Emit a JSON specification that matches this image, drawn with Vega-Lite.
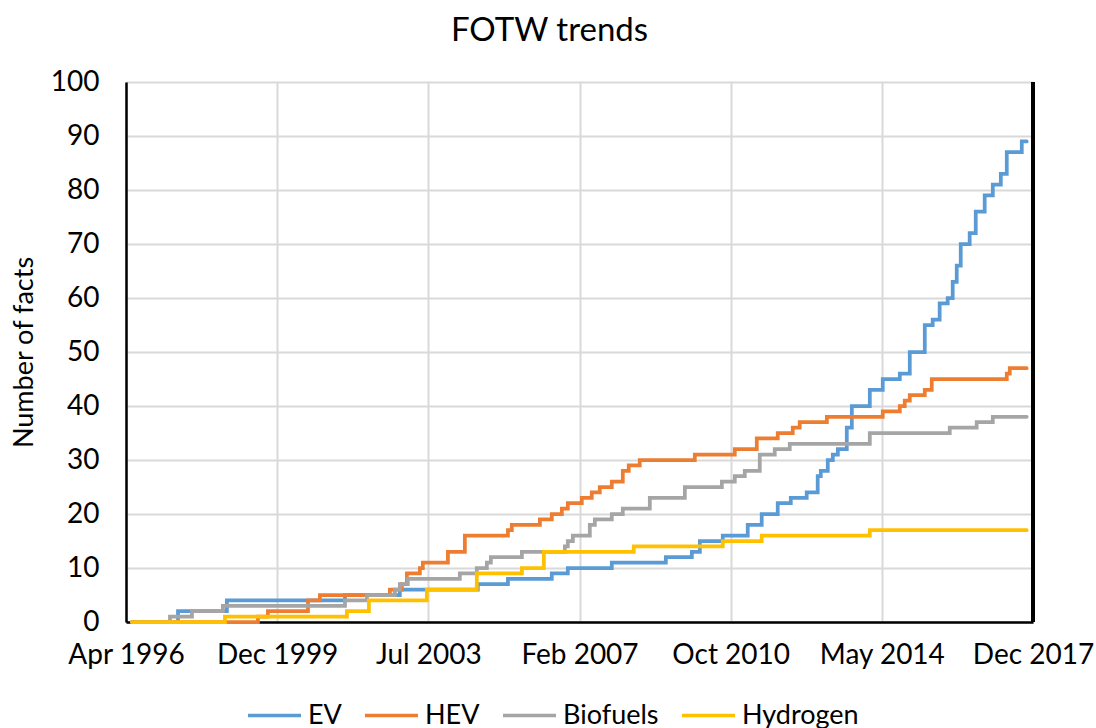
{
  "$schema": "https://vega.github.io/schema/vega-lite/v6.json",
  "autosize": {"type": "none"},
  "width": 907,
  "height": 540,
  "padding": {"left": 126, "top": 82, "right": 63, "bottom": 106},
  "background": "white",
  "config": {
    "font": "Lato",
    "view": {"stroke": null},
    "axis": {"labelFont": "Lato", "titleFont": "Lato", "labelColor": "#000", "titleColor": "#000"}
  },
  "title": {"text": "FOTW trends", "fontSize": 33, "fontWeight": "normal", "font": "Lato", "color": "#000", "anchor": "middle", "dx": -30, "offset": 20},
  "data": {"values": [
    {"s":"EV","d":"1996-06-16","v":0},
    {"s":"EV","d":"1997-07-23","v":2},
    {"s":"EV","d":"1998-09-23","v":4},
    {"s":"EV","d":"2001-07-20","v":5},
    {"s":"EV","d":"2002-11-11","v":6},
    {"s":"EV","d":"2004-09-22","v":7},
    {"s":"EV","d":"2005-06-12","v":8},
    {"s":"EV","d":"2006-06-30","v":9},
    {"s":"EV","d":"2006-11-17","v":10},
    {"s":"EV","d":"2007-12-06","v":11},
    {"s":"EV","d":"2009-03-22","v":12},
    {"s":"EV","d":"2009-11-04","v":13},
    {"s":"EV","d":"2010-01-13","v":15},
    {"s":"EV","d":"2010-08-01","v":16},
    {"s":"EV","d":"2011-03-07","v":18},
    {"s":"EV","d":"2011-07-07","v":20},
    {"s":"EV","d":"2011-11-24","v":22},
    {"s":"EV","d":"2012-03-17","v":23},
    {"s":"EV","d":"2012-08-03","v":24},
    {"s":"EV","d":"2012-11-07","v":27},
    {"s":"EV","d":"2012-12-04","v":28},
    {"s":"EV","d":"2013-02-03","v":30},
    {"s":"EV","d":"2013-03-19","v":31},
    {"s":"EV","d":"2013-05-02","v":32},
    {"s":"EV","d":"2013-07-19","v":36},
    {"s":"EV","d":"2013-09-01","v":40},
    {"s":"EV","d":"2014-02-05","v":43},
    {"s":"EV","d":"2014-05-29","v":45},
    {"s":"EV","d":"2014-10-25","v":46},
    {"s":"EV","d":"2015-01-20","v":50},
    {"s":"EV","d":"2015-05-31","v":55},
    {"s":"EV","d":"2015-08-08","v":56},
    {"s":"EV","d":"2015-10-08","v":59},
    {"s":"EV","d":"2015-12-17","v":60},
    {"s":"EV","d":"2016-01-30","v":63},
    {"s":"EV","d":"2016-03-05","v":66},
    {"s":"EV","d":"2016-04-09","v":70},
    {"s":"EV","d":"2016-06-26","v":72},
    {"s":"EV","d":"2016-08-18","v":76},
    {"s":"EV","d":"2016-11-04","v":79},
    {"s":"EV","d":"2017-01-14","v":81},
    {"s":"EV","d":"2017-03-25","v":83},
    {"s":"EV","d":"2017-05-16","v":87},
    {"s":"EV","d":"2017-09-24","v":89},
    {"s":"EV","d":"2017-11-06","v":89},
    {"s":"HEV","d":"1996-06-16","v":0},
    {"s":"HEV","d":"1999-06-21","v":1},
    {"s":"HEV","d":"1999-09-16","v":2},
    {"s":"HEV","d":"2000-08-31","v":4},
    {"s":"HEV","d":"2000-12-13","v":5},
    {"s":"HEV","d":"2002-08-16","v":6},
    {"s":"HEV","d":"2002-11-29","v":7},
    {"s":"HEV","d":"2003-01-12","v":9},
    {"s":"HEV","d":"2003-05-05","v":10},
    {"s":"HEV","d":"2003-05-31","v":11},
    {"s":"HEV","d":"2004-01-05","v":13},
    {"s":"HEV","d":"2004-06-01","v":16},
    {"s":"HEV","d":"2005-06-12","v":17},
    {"s":"HEV","d":"2005-07-16","v":18},
    {"s":"HEV","d":"2006-03-18","v":19},
    {"s":"HEV","d":"2006-06-30","v":20},
    {"s":"HEV","d":"2006-09-26","v":21},
    {"s":"HEV","d":"2006-11-17","v":22},
    {"s":"HEV","d":"2007-03-19","v":23},
    {"s":"HEV","d":"2007-06-14","v":24},
    {"s":"HEV","d":"2007-08-23","v":25},
    {"s":"HEV","d":"2007-12-06","v":26},
    {"s":"HEV","d":"2008-03-11","v":28},
    {"s":"HEV","d":"2008-05-02","v":29},
    {"s":"HEV","d":"2008-08-06","v":30},
    {"s":"HEV","d":"2009-11-30","v":31},
    {"s":"HEV","d":"2010-11-14","v":32},
    {"s":"HEV","d":"2011-05-25","v":34},
    {"s":"HEV","d":"2011-11-24","v":35},
    {"s":"HEV","d":"2012-04-03","v":36},
    {"s":"HEV","d":"2012-06-03","v":37},
    {"s":"HEV","d":"2013-01-26","v":38},
    {"s":"HEV","d":"2014-05-29","v":39},
    {"s":"HEV","d":"2014-10-25","v":40},
    {"s":"HEV","d":"2014-12-07","v":41},
    {"s":"HEV","d":"2015-01-20","v":42},
    {"s":"HEV","d":"2015-05-31","v":43},
    {"s":"HEV","d":"2015-07-31","v":45},
    {"s":"HEV","d":"2017-05-16","v":46},
    {"s":"HEV","d":"2017-06-11","v":47},
    {"s":"HEV","d":"2017-11-06","v":47},
    {"s":"Biofuels","d":"1996-06-16","v":0},
    {"s":"Biofuels","d":"1997-05-14","v":1},
    {"s":"Biofuels","d":"1997-11-22","v":2},
    {"s":"Biofuels","d":"1998-08-19","v":3},
    {"s":"Biofuels","d":"2001-07-20","v":4},
    {"s":"Biofuels","d":"2002-01-28","v":5},
    {"s":"Biofuels","d":"2002-09-29","v":6},
    {"s":"Biofuels","d":"2002-11-11","v":7},
    {"s":"Biofuels","d":"2003-01-20","v":8},
    {"s":"Biofuels","d":"2004-04-18","v":9},
    {"s":"Biofuels","d":"2004-09-13","v":10},
    {"s":"Biofuels","d":"2004-12-10","v":11},
    {"s":"Biofuels","d":"2005-01-14","v":12},
    {"s":"Biofuels","d":"2005-10-12","v":13},
    {"s":"Biofuels","d":"2006-10-22","v":14},
    {"s":"Biofuels","d":"2006-11-17","v":15},
    {"s":"Biofuels","d":"2006-12-31","v":16},
    {"s":"Biofuels","d":"2007-05-28","v":18},
    {"s":"Biofuels","d":"2007-07-11","v":19},
    {"s":"Biofuels","d":"2007-12-06","v":20},
    {"s":"Biofuels","d":"2008-03-11","v":21},
    {"s":"Biofuels","d":"2008-11-02","v":23},
    {"s":"Biofuels","d":"2009-09-04","v":25},
    {"s":"Biofuels","d":"2010-07-24","v":26},
    {"s":"Biofuels","d":"2010-11-14","v":27},
    {"s":"Biofuels","d":"2011-02-09","v":28},
    {"s":"Biofuels","d":"2011-06-20","v":31},
    {"s":"Biofuels","d":"2011-10-29","v":32},
    {"s":"Biofuels","d":"2012-03-08","v":33},
    {"s":"Biofuels","d":"2014-02-05","v":35},
    {"s":"Biofuels","d":"2016-01-04","v":36},
    {"s":"Biofuels","d":"2016-08-26","v":37},
    {"s":"Biofuels","d":"2017-01-14","v":38},
    {"s":"Biofuels","d":"2017-11-06","v":38},
    {"s":"Hydrogen","d":"1996-06-16","v":0},
    {"s":"Hydrogen","d":"1998-09-06","v":1},
    {"s":"Hydrogen","d":"2001-08-06","v":2},
    {"s":"Hydrogen","d":"2002-02-14","v":4},
    {"s":"Hydrogen","d":"2003-07-05","v":6},
    {"s":"Hydrogen","d":"2004-09-13","v":9},
    {"s":"Hydrogen","d":"2005-10-12","v":10},
    {"s":"Hydrogen","d":"2006-04-22","v":13},
    {"s":"Hydrogen","d":"2008-06-15","v":14},
    {"s":"Hydrogen","d":"2010-08-01","v":15},
    {"s":"Hydrogen","d":"2011-07-07","v":16},
    {"s":"Hydrogen","d":"2014-02-05","v":17},
    {"s":"Hydrogen","d":"2017-11-06","v":17}
  ]},
  "layer": [
    {
      "mark": {"type": "line", "interpolate": "step-after", "strokeWidth": 3.75, "strokeCap": "round"},
      "encoding": {
        "x": {
          "field": "d", "type": "temporal",
          "scale": {"domain": [{"year": 1996, "month": 4, "date": 25}, {"year": 2017, "month": 12, "date": 31}], "nice": false},
          "axis": {
            "title": null,
            "format": "%b %Y",
            "values": [
              {"year": 1996, "month": 4, "date": 25},
              {"year": 1999, "month": 12, "date": 6},
              {"year": 2003, "month": 7, "date": 18},
              {"year": 2007, "month": 2, "date": 27},
              {"year": 2010, "month": 10, "date": 9},
              {"year": 2014, "month": 5, "date": 21},
              {"year": 2017, "month": 12, "date": 31}
            ],
            "labelFontSize": 28,
            "labelPadding": 19,
            "labelOverlap": false,
            "labelFlush": false,
            "ticks": false,
            "grid": true,
            "gridColor": "#D9D9D9",
            "gridWidth": 2,
            "domainColor": "#000",
            "domainWidth": 2.5
          }
        },
        "y": {
          "field": "v", "type": "quantitative",
          "scale": {"domain": [0, 100], "nice": false},
          "axis": {
            "title": "Number of facts",
            "titleFontSize": 27,
            "titleFontWeight": "normal",
            "titlePadding": 12,
            "values": [0, 10, 20, 30, 40, 50, 60, 70, 80, 90, 100],
            "labelFontSize": 28,
            "labelPadding": 27,
            "ticks": false,
            "grid": true,
            "gridColor": "#D9D9D9",
            "gridWidth": 2,
            "domainColor": "#000",
            "domainWidth": 2.5
          }
        },
        "color": {
          "field": "s", "type": "nominal",
          "scale": {"domain": ["EV", "HEV", "Biofuels", "Hydrogen"], "range": ["#5B9BD5", "#ED7D31", "#A5A5A5", "#FFC000"]},
          "legend": {
            "title": null,
            "orient": "none",
            "legendX": 120,
            "legendY": 605,
            "direction": "horizontal",
            "gridAlign": "none",
            "symbolType": "stroke",
            "symbolSize": 2809,
            "symbolStrokeWidth": 3.5,
            "labelFontSize": 27,
            "labelFont": "Lato",
            "labelColor": "#000",
            "labelOffset": 5,
            "columnPadding": 16
          }
        }
      }
    },
    {
      "mark": {"type": "rule", "color": "#000", "strokeWidth": 2.5},
      "encoding": {"x": {"datum": {"year": 2017, "month": 12, "date": 31}, "type": "temporal"}}
    }
  ]
}
